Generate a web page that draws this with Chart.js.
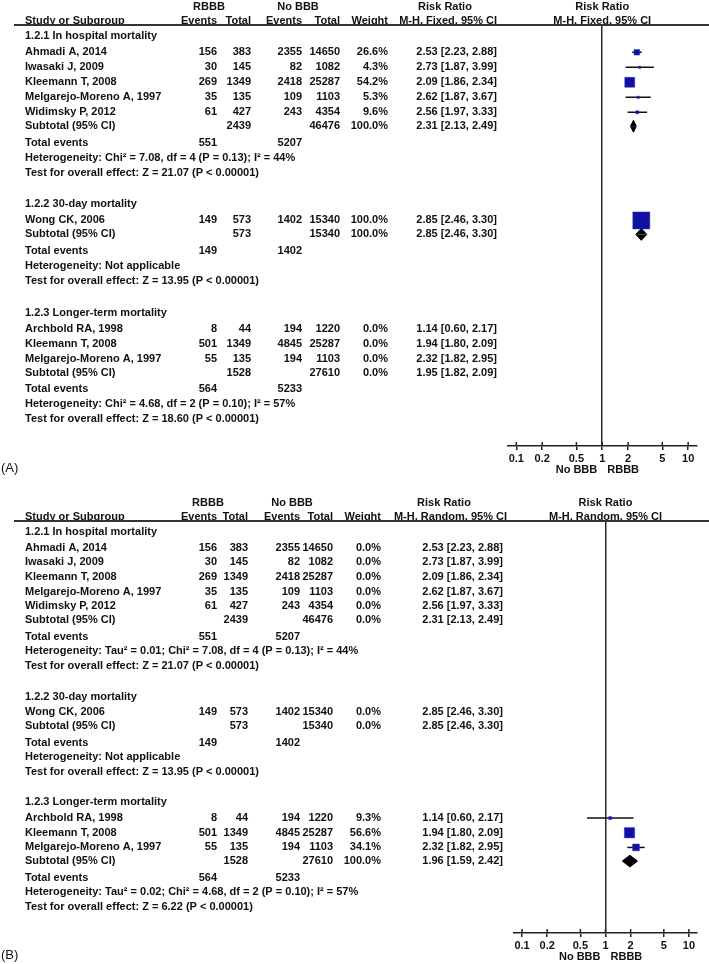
<!DOCTYPE html>
<html>
<head>
<meta charset="utf-8">
<title>Forest plot - RBBB vs No BBB</title>
<script src="https://cdn.jsdelivr.net/npm/chart.js@4.4.1/dist/chart.umd.min.js"></script>
<style>
    html, body { margin: 0; padding: 0; background: #fff; }
    .panel { position: absolute; left: 0; width: 709px; height: 482px; }
    #panelA { top: 0; }
    #panelB { top: 482px; }
</style>
</head>
<body>
<div class="panel" id="panelA"><canvas id="chartA"></canvas></div>
<div class="panel" id="panelB"><canvas id="chartB"></canvas></div>
<script>
// ---- data ----
const studies = ['Ahmadi A, 2014', 'Iwasaki J, 2009', 'Kleemann T, 2008', 'Melgarejo-Moreno A, 1997', 'Widimsky P, 2012',
    'Wong CK, 2006', 'Archbold RA, 1998', 'Kleemann T, 2008', 'Melgarejo-Moreno A, 1997'];
const studyGroup = [0, 0, 0, 0, 0, 1, 2, 2, 2];
const rbbbEvents = [156, 30, 269, 35, 61, 149, 8, 501, 55];
const rbbbTotal = [383, 145, 1349, 135, 427, 573, 44, 1349, 135];
const noBbbEvents = [2355, 82, 2418, 109, 243, 1402, 194, 4845, 194];
const noBbbTotal = [14650, 1082, 25287, 1103, 4354, 15340, 1220, 25287, 1103];
const riskRatio = [2.53, 2.73, 2.09, 2.62, 2.56, 2.85, 1.14, 1.94, 2.32];
const ciLower = [2.23, 1.87, 1.86, 1.87, 1.97, 2.46, 0.60, 1.80, 1.82];
const ciUpper = [2.88, 3.99, 2.34, 3.67, 3.33, 3.30, 2.17, 2.09, 2.95];
const weightFixed = [26.6, 4.3, 54.2, 5.3, 9.6, 100.0, 0.0, 0.0, 0.0];
const weightRandom = [0.0, 0.0, 0.0, 0.0, 0.0, 0.0, 9.3, 56.6, 34.1];

const groupTitles = ['1.2.1 In hospital mortality', '1.2.2 30-day mortality', '1.2.3 Longer-term mortality'];
const groupRbbbTotal = [2439, 573, 1528];
const groupNoBbbTotal = [46476, 15340, 27610];
const groupRbbbEvents = [551, 149, 564];
const groupNoBbbEvents = [5207, 1402, 5233];

const subtotalFixedRR = [2.31, 2.85, 1.95];
const subtotalFixedLo = [2.13, 2.46, 1.82];
const subtotalFixedHi = [2.49, 3.30, 2.09];
const subtotalFixedWeight = [100.0, 100.0, 0.0];
const subtotalRandomRR = [2.31, 2.85, 1.96];
const subtotalRandomLo = [2.13, 2.46, 1.59];
const subtotalRandomHi = [2.49, 3.30, 2.42];
const subtotalRandomWeight = [0.0, 0.0, 100.0];

const heterogeneityFixed = [
    'Heterogeneity: Chi² = 7.08, df = 4 (P = 0.13); I² = 44%',
    'Heterogeneity: Not applicable',
    'Heterogeneity: Chi² = 4.68, df = 2 (P = 0.10); I² = 57%'
];
const heterogeneityRandom = [
    'Heterogeneity: Tau² = 0.01; Chi² = 7.08, df = 4 (P = 0.13); I² = 44%',
    'Heterogeneity: Not applicable',
    'Heterogeneity: Tau² = 0.02; Chi² = 4.68, df = 2 (P = 0.10); I² = 57%'
];
const overallFixed = [
    'Test for overall effect: Z = 21.07 (P < 0.00001)',
    'Test for overall effect: Z = 13.95 (P < 0.00001)',
    'Test for overall effect: Z = 18.60 (P < 0.00001)'
];
const overallRandom = [
    'Test for overall effect: Z = 21.07 (P < 0.00001)',
    'Test for overall effect: Z = 13.95 (P < 0.00001)',
    'Test for overall effect: Z = 6.22 (P < 0.00001)'
];
const axisTicks = [0.1, 0.2, 0.5, 1, 2, 5, 10];
const favourLabels = ['No BBB', 'RBBB'];

// ---- layout ----
const CANVAS_W = 709;
const CANVAS_H = 482;
const X_AXIS_H = 20;
const Y_MAX = 28.07;        // row units between header rule and axis
const DIAMOND_H = 0.4;
const FONT = '"Liberation Sans", Arial, sans-serif';
const TEXT_FONT = 'bold 11px ' + FONT;

Chart.defaults.font.family = FONT;
Chart.defaults.color = '#111';

const panels = [
    {
        canvas: 'chartA', tag: '(A)', method: 'M-H, Fixed, 95% CI',
        weights: weightFixed, subRR: subtotalFixedRR, subLo: subtotalFixedLo, subHi: subtotalFixedHi,
        subWeight: subtotalFixedWeight, het: heterogeneityFixed, overall: overallFixed,
        lineY: 25, axisY: 446, plotLeft: 508, plotRight: 697, tagY: 468,
        cols: { name: 25, ev1: 217, tot1: 251, ev2: 302, tot2: 340, weight: 388, ci: 497, ciHead: 497,
            rbbb: 209, noBbb: 298, rr: 445 }
    },
    {
        canvas: 'chartB', tag: '(B)', method: 'M-H, Random, 95% CI',
        weights: weightRandom, subRR: subtotalRandomRR, subLo: subtotalRandomLo, subHi: subtotalRandomHi,
        subWeight: subtotalRandomWeight, het: heterogeneityRandom, overall: overallRandom,
        lineY: 39, axisY: 451, plotLeft: 514, plotRight: 697, tagY: 473,
        cols: { name: 25, ev1: 217, tot1: 248, ev2: 300, tot2: 333, weight: 381, ci: 503, ciHead: 507,
            rbbb: 208, noBbb: 292, rr: 444 }
    }
];

// row positions (in row units below the header rule)
function buildRows() {
    const rows = [];
    let pos = 0.75;
    groupTitles.forEach((title, g) => {
        rows.push({ type: 'group', g, pos });
        pos += 1.07;
        studies.forEach((s, i) => {
            if (studyGroup[i] === g) {
                rows.push({ type: 'study', i, pos });
                pos += 1;
            }
        });
        pos -= 0.07;
        rows.push({ type: 'subtotal', g, pos });
        pos += 1.13;
        rows.push({ type: 'events', g, pos });
        pos += 1;
        rows.push({ type: 'het', g, pos });
        pos += 1;
        rows.push({ type: 'test', g, pos });
        pos += 2.08;
    });
    return rows;
}
const rows = buildRows();
const studyRow = i => rows.find(r => r.type === 'study' && r.i === i).pos;
const subtotalRow = g => rows.find(r => r.type === 'subtotal' && r.g === g).pos;

const squareSide = w => 1.5 + 15.5 * w / 100;
const ciText = (rr, lo, hi) => `${rr.toFixed(2)} [${lo.toFixed(2)}, ${hi.toFixed(2)}]`;

function buildDatasets(panel) {
    const datasets = [];

    // confidence interval whiskers
    studies.forEach((s, i) => {
        if (panel.weights[i] <= 0) return;
        const y = studyRow(i);
        datasets.push({
            type: 'line',
            data: [{ x: ciLower[i], y }, { x: ciUpper[i], y }],
            borderColor: '#111', borderWidth: 1.5, pointRadius: 0, fill: false, order: 2
        });
    });

    // weighted squares
    const squares = studies
        .map((s, i) => ({ x: riskRatio[i], y: studyRow(i), w: panel.weights[i] }))
        .filter(d => d.w > 0);
    datasets.push({
        type: 'scatter',
        data: squares,
        pointStyle: 'rect',
        pointRadius: ctx => squareSide(ctx.raw.w) / Math.SQRT2,
        pointBackgroundColor: '#1010a2',
        pointBorderColor: '#2c2cc0',
        pointBorderWidth: 0.5,
        order: 0
    });

    // subtotal diamonds, drawn as two filled halves
    groupTitles.forEach((t, g) => {
        if (panel.subWeight[g] <= 0) return;
        const y = subtotalRow(g);
        [-DIAMOND_H, DIAMOND_H].forEach(h => {
            datasets.push({
                type: 'line',
                data: [{ x: panel.subLo[g], y }, { x: panel.subRR[g], y: y + h }, { x: panel.subHi[g], y }],
                fill: { value: y },
                backgroundColor: '#000', borderColor: '#000', borderWidth: 1,
                pointRadius: 0, order: 1
            });
        });
    });
    return datasets;
}

function makeTablePlugin(panel) {
    return {
        id: 'forestTable',
        afterDraw(chart) {
            const ctx = chart.ctx;
            const yScale = chart.scales.y;
            const xScale = chart.scales.x;
            const c = panel.cols;
            const py = v => yScale.getPixelForValue(v);
            const one = xScale.getPixelForValue(1);
            const put = (s, x, y, align) => {
                ctx.textAlign = align || 'left';
                ctx.fillText(String(s), x, y);
            };

            ctx.save();
            ctx.fillStyle = '#111';
            ctx.textBaseline = 'middle';
            ctx.font = TEXT_FONT;

            // column headers
            const h1 = py(-1.22), h2 = py(-0.25);
            put('RBBB', c.rbbb, h1, 'center');
            put('No BBB', c.noBbb, h1, 'center');
            put('Risk Ratio', c.rr, h1, 'center');
            put('Risk Ratio', one, h1, 'center');
            put('Study or Subgroup', c.name, h2);
            put('Events', c.ev1, h2, 'right');
            put('Total', c.tot1, h2, 'right');
            put('Events', c.ev2, h2, 'right');
            put('Total', c.tot2, h2, 'right');
            put('Weight', c.weight, h2, 'right');
            put(panel.method, c.ciHead, h2, 'right');
            put(panel.method, one, h2, 'center');

            // body rows
            rows.forEach(r => {
                const y = py(r.pos);
                if (r.type === 'group') {
                    put(groupTitles[r.g], c.name, y);
                } else if (r.type === 'study') {
                    const i = r.i;
                    put(studies[i], c.name, y);
                    put(rbbbEvents[i], c.ev1, y, 'right');
                    put(rbbbTotal[i], c.tot1, y, 'right');
                    put(noBbbEvents[i], c.ev2, y, 'right');
                    put(noBbbTotal[i], c.tot2, y, 'right');
                    put(panel.weights[i].toFixed(1) + '%', c.weight, y, 'right');
                    put(ciText(riskRatio[i], ciLower[i], ciUpper[i]), c.ci, y, 'right');
                } else if (r.type === 'subtotal') {
                    const g = r.g;
                    put('Subtotal (95% CI)', c.name, y);
                    put(groupRbbbTotal[g], c.tot1, y, 'right');
                    put(groupNoBbbTotal[g], c.tot2, y, 'right');
                    put(panel.subWeight[g].toFixed(1) + '%', c.weight, y, 'right');
                    put(ciText(panel.subRR[g], panel.subLo[g], panel.subHi[g]), c.ci, y, 'right');
                } else if (r.type === 'events') {
                    put('Total events', c.name, y);
                    put(groupRbbbEvents[r.g], c.ev1, y, 'right');
                    put(groupNoBbbEvents[r.g], c.ev2, y, 'right');
                } else if (r.type === 'het') {
                    put(panel.het[r.g], c.name, y);
                } else if (r.type === 'test') {
                    put(panel.overall[r.g], c.name, y);
                }
            });

            // favours labels under the axis
            const fy = chart.chartArea.bottom + 24;
            put(favourLabels[0], one - 5, fy, 'right');
            put(favourLabels[1], one + 5, fy, 'left');

            // panel tag
            ctx.font = '13px ' + FONT;
            put(panel.tag, 1, panel.tagY);

            // header rule
            ctx.strokeStyle = '#333';
            ctx.lineWidth = 2;
            ctx.beginPath();
            ctx.moveTo(14, chart.chartArea.top);
            ctx.lineTo(CANVAS_W, chart.chartArea.top);
            ctx.stroke();

            // upper half of the axis ticks
            ctx.strokeStyle = '#222';
            ctx.lineWidth = 1.5;
            axisTicks.forEach(v => {
                const x = xScale.getPixelForValue(v);
                ctx.beginPath();
                ctx.moveTo(x, chart.chartArea.bottom - 4);
                ctx.lineTo(x, chart.chartArea.bottom);
                ctx.stroke();
            });
            ctx.restore();
        }
    };
}

function renderPanel(panel) {
    const ctx = document.getElementById(panel.canvas).getContext('2d');
    return new Chart(ctx, {
        type: 'scatter',
        data: { datasets: buildDatasets(panel) },
        options: {
            responsive: true,
            maintainAspectRatio: false,
            animation: false,
            layout: {
                padding: {
                    left: panel.plotLeft,
                    right: CANVAS_W - panel.plotRight,
                    top: panel.lineY,
                    bottom: CANVAS_H - panel.axisY - X_AXIS_H
                }
            },
            plugins: {
                legend: { display: false },
                tooltip: { enabled: false }
            },
            scales: {
                x: {
                    type: 'logarithmic',
                    min: 0.08,
                    max: 12.5,
                    position: 'bottom',
                    afterBuildTicks: scale => {
                        scale.ticks = axisTicks.map(v => ({ value: v }));
                    },
                    afterFit: scale => {
                        scale.height = X_AXIS_H;
                    },
                    border: { display: true, color: '#222', width: 1.5 },
                    grid: {
                        drawOnChartArea: true,
                        color: c => (c.tick && c.tick.value === 1) ? '#2a2a2a' : 'rgba(0,0,0,0)',
                        lineWidth: 1.5,
                        tickColor: '#222',
                        tickWidth: 1.5,
                        tickLength: 4
                    },
                    ticks: {
                        autoSkip: false,
                        maxRotation: 0,
                        padding: 2,
                        color: '#111',
                        font: { size: 11, weight: 'bold' },
                        callback: v => String(v)
                    }
                },
                y: {
                    type: 'linear',
                    min: 0,
                    max: Y_MAX,
                    reverse: true,
                    display: false
                }
            }
        },
        plugins: [makeTablePlugin(panel)]
    });
}

panels.forEach(renderPanel);
</script>
</body>
</html>
